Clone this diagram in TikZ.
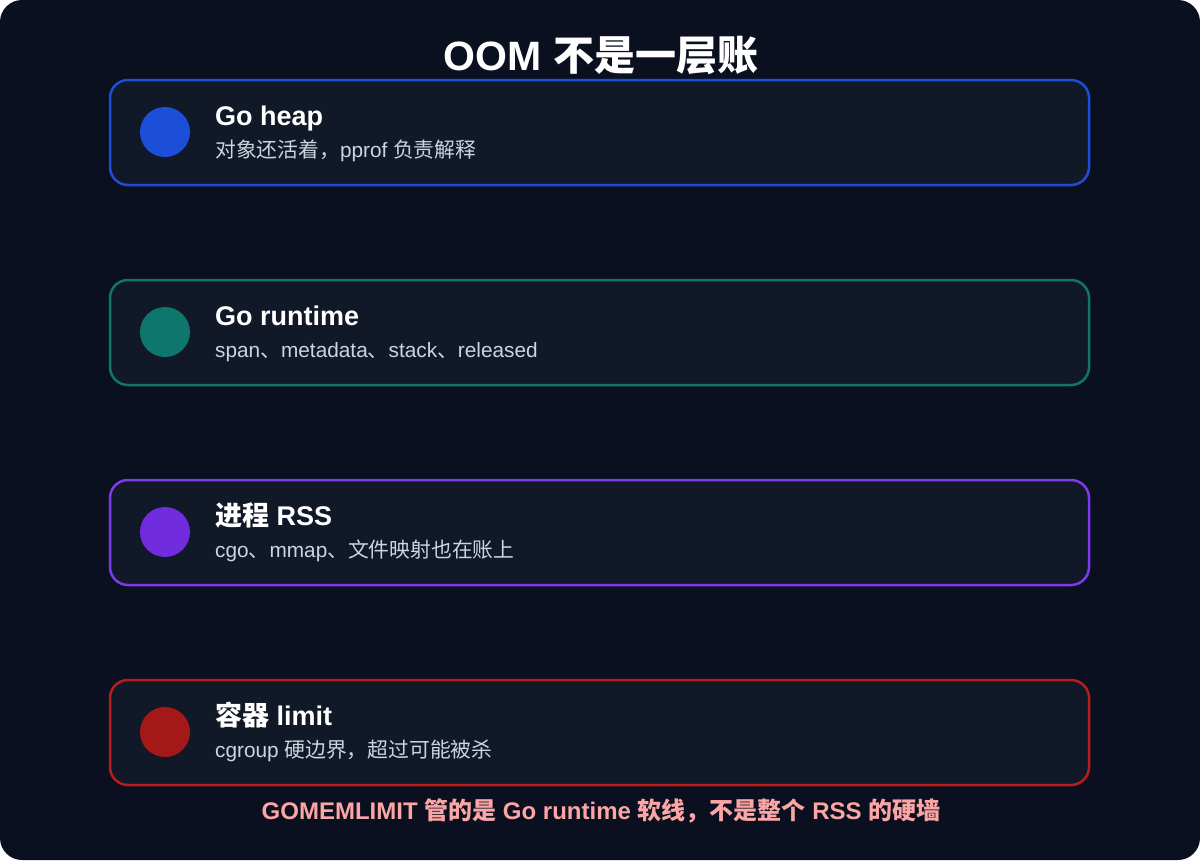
\documentclass[tikz,border=0pt]{standalone}
\usepackage{fontspec}
\setmainfont{Liberation Sans}
\newfontfamily\cjk{Noto Sans CJK SC}
\newcommand{\zh}[1]{{\cjk #1}}
\definecolor{bg}{HTML}{0B1020}
\definecolor{card}{HTML}{111827}
\definecolor{cblue}{HTML}{1D4ED8}
\definecolor{cteal}{HTML}{0F766E}
\definecolor{cpurple}{HTML}{6D28D9}
\definecolor{cpurpleb}{HTML}{7C3AED}
\definecolor{cred}{HTML}{B91C1C}
\definecolor{sub}{HTML}{CBD5E1}
\definecolor{note}{HTML}{FCA5A5}
\begin{document}
\begin{tikzpicture}[x=1pt,y=-1pt,
  cardbox/.style={line width=2.5pt, fill=card, rounded corners=18pt},
  dot/.style={circle, minimum size=50pt, inner sep=0pt},
  headtxt/.style={anchor=base west, text=white, font=\fontsize{27}{31}\selectfont\bfseries, inner sep=0pt},
  subtxt/.style={anchor=base west, text=sub, font=\fontsize{20.8}{24}\selectfont, inner sep=0pt}]
\useasboundingbox (0,0) rectangle (1200,860);
\fill[white] (0,0) rectangle (1200,860);
\fill[bg, rounded corners=22pt] (0,0) rectangle (1200,860);
\node[text=white, font=\fontsize{41}{47}\selectfont\bfseries, anchor=base, inner sep=0pt] (title) at (601,70) {OOM \zh{不是一层账}};
% card 1
\draw[cardbox, draw=cblue] (110,80) rectangle (1089,185);
\node[dot, fill=cblue] (d1) at (165,132) {};
\node[headtxt] (h1) at (215,125) {Go heap};
\node[subtxt] (s1) at (215,157) {\zh{对象还活着，}pprof \zh{负责解释}};
% card 2
\draw[cardbox, draw=cteal] (110,280) rectangle (1089,385);
\node[dot, fill=cteal] (d2) at (165,332) {};
\node[headtxt] (h2) at (215,325) {Go runtime};
\node[subtxt] (s2) at (215,357) {span\zh{、}metadata\zh{、}stack\zh{、}released};
% card 3
\draw[cardbox, draw=cpurpleb] (110,480) rectangle (1089,585);
\node[dot, fill=cpurple!80!cpurpleb] (d3) at (165,532) {};
\node[headtxt] (h3) at (215,525) {\zh{进程} RSS};
\node[subtxt] (s3) at (215,557) {cgo\zh{、}mmap\zh{、文件映射也在账上}};
% card 4
\draw[cardbox, draw=cred] (110,680) rectangle (1089,785);
\node[dot, fill=cred!90!black] (d4) at (165,732) {};
\node[headtxt] (h4) at (215,725) {\zh{容器} limit};
\node[subtxt] (s4) at (215,757) {cgroup \zh{硬边界，超过可能被杀}};
% note
\node[text=note, font=\fontsize{24}{28}\selectfont\bfseries, anchor=base, inner sep=0pt] (n) at (601,819) {GOMEMLIMIT \zh{管的是} Go runtime \zh{软线，不是整个} RSS \zh{的硬墙}};
\end{tikzpicture}
\end{document}
